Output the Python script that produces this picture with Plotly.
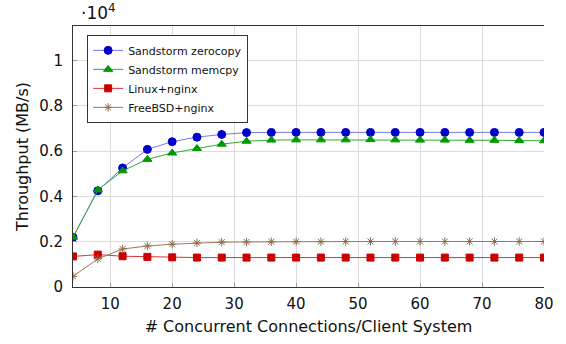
import plotly.graph_objects as go

# Connections per client system
connections = [4, 8, 12, 16, 20, 24, 28, 32, 36, 40, 44, 48, 52, 56, 60, 64, 68, 72, 76, 80]

# Throughput in MB/s
zerocopy = [2200, 4250, 5260, 6080, 6420, 6620, 6740, 6820, 6830, 6830, 6830, 6830, 6830,
            6830, 6830, 6830, 6830, 6830, 6830, 6830]
memcpy = [2200, 4290, 5130, 5640, 5920, 6120, 6310, 6440, 6490, 6500, 6500, 6500, 6510,
          6500, 6490, 6490, 6480, 6480, 6470, 6460]
linux_nginx = [1350, 1430, 1360, 1330, 1310, 1300, 1300, 1300, 1300, 1300, 1300, 1300, 1300,
               1300, 1300, 1300, 1300, 1300, 1300, 1300]
freebsd_nginx = [470, 1240, 1680, 1810, 1890, 1950, 1980, 1990, 2000, 2000, 2000, 2010, 2010,
                 2010, 2010, 2010, 2010, 2010, 2010, 2010]

x_ticks = [10, 20, 30, 40, 50, 60, 70, 80]
y_ticks = [0, 2000, 4000, 6000, 8000, 10000]
y_tick_text = ["0", "0.2", "0.4", "0.6", "0.8", "1"]

FONT = "DejaVu Sans"

series = [
    ("Sandstorm zerocopy", zerocopy, "#7777ee", "#0000cc", "circle", 8),
    ("Sandstorm memcpy", memcpy, "#33aa33", "#009900", "triangle-up", 8),
    ("Linux+nginx", linux_nginx, "#dd3333", "#cc0000", "square", 7),
    ("FreeBSD+nginx", freebsd_nginx, "#9b7a5a", "#8b6a4a", "asterisk-open", 7),
]

fig = go.Figure()
for name, vals, line_col, mark_col, sym, size in series:
    fig.add_trace(go.Scatter(
        x=connections, y=vals, name=name, mode="lines+markers",
        line=dict(color=line_col, width=1),
        marker=dict(symbol=sym, size=size, color=mark_col,
                    line=dict(color=mark_col, width=1)),
    ))

axis_common = dict(
    showgrid=True, gridcolor="#dcdcdc", gridwidth=1,
    zeroline=False, showline=True, linecolor="#333333", linewidth=1,
    ticks="inside", ticklen=4, tickcolor="#999999",
    tickfont=dict(family=FONT, size=15, color="#111111"),
)

fig.update_layout(
    width=566, height=344,
    margin=dict(l=73, r=20, t=26, b=56),
    paper_bgcolor="white", plot_bgcolor="white",
    font=dict(family=FONT, color="#111111"),
    xaxis=dict(range=[4, 80], tickvals=x_ticks, mirror=True, ticklabelstandoff=3,
               title=dict(text="# Concurrent Connections/Client System",
                          font=dict(family=FONT, size=16), standoff=8),
               **axis_common),
    yaxis=dict(range=[0, 11530], tickvals=y_ticks, ticktext=y_tick_text,
               ticklabelstandoff=6,
               title=dict(text="Throughput (MB/s)",
                          font=dict(family=FONT, size=16), standoff=6),
               **axis_common),
    legend=dict(
        x=0.03, y=0.966, xanchor="left", yanchor="top",
        bgcolor="white", bordercolor="#333333", borderwidth=1,
        font=dict(family=FONT, size=11), tracegroupgap=0,
        itemwidth=30,
    ),
    showlegend=True,
    annotations=[dict(
        text="·10<sup>4</sup>", xref="paper", yref="paper",
        x=0.0, y=1.0, xanchor="left", yanchor="bottom", yshift=1, xshift=6,
        showarrow=False, font=dict(family=FONT, size=17),
    )],
)

fig.write_html("out.html")
